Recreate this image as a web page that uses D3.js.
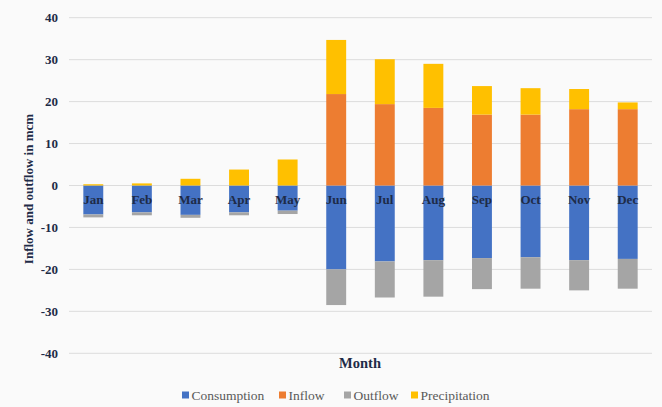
<!DOCTYPE html>
<html>
<head>
<meta charset="utf-8">
<script src="https://cdn.jsdelivr.net/npm/d3@7/dist/d3.min.js"></script>
<style>
  html, body { margin: 0; padding: 0; background: #ffffff; }
  svg { display: block; }
  text { font-family: "Liberation Serif", "DejaVu Serif", "Times New Roman", serif; }
</style>
</head>
<body>
<script>
const months = ["Jan","Feb","Mar","Apr","May","Jun","Jul","Aug","Sep","Oct","Nov","Dec"];
const consumption = [-6.9,-6.4,-7.0,-6.4,-6.0,-20.0,-18.1,-17.8,-17.3,-17.1,-17.8,-17.5];
const inflow = [0,0,0,0,0,21.8,19.4,18.5,16.9,16.9,18.2,18.2];
const outflow = [-0.7,-0.7,-0.7,-0.7,-0.8,-8.5,-8.6,-8.7,-7.4,-7.5,-7.2,-7.1];
const precipitation = [0.3,0.5,1.6,3.8,6.2,12.9,10.7,10.5,6.8,6.3,4.8,1.6];
const yTicks = [-40,-30,-20,-10,0,10,20,30,40];
const seriesNames = ["Consumption","Inflow","Outflow","Precipitation"];
const seriesColors = ["#4472C4","#ED7D31","#A5A5A5","#FFC000"];

const W = 662, H = 407;
const svg = d3.select("body").append("svg").attr("width", W).attr("height", H);
svg.append("rect").attr("width", W).attr("height", H).attr("fill", "#fafafa");

const rows = months.map((m, i) => ({
  month: m,
  Consumption: consumption[i],
  Inflow: inflow[i],
  Outflow: outflow[i],
  Precipitation: precipitation[i]
}));

const x = d3.scaleBand().domain(months).range([69, 652]).paddingInner(0.59).paddingOuter(0.295);
const y = d3.scaleLinear().domain([-40, 40]).range([353.3, 17.7]);
const color = d3.scaleOrdinal().domain(seriesNames).range(seriesColors);

// gridlines
svg.append("g").selectAll("line").data(yTicks).join("line")
  .attr("x1", 69).attr("x2", 652)
  .attr("y1", d => y(d)).attr("y2", d => y(d))
  .attr("stroke", "#dcdcdc").attr("stroke-width", 1);

// y tick labels
svg.append("g").selectAll("text").data(yTicks).join("text")
  .attr("x", 58).attr("y", d => y(d)).attr("dy", "0.35em")
  .attr("text-anchor", "end")
  .attr("font-weight", "bold")
  .attr("font-size", 13).attr("fill", "#1e2b47")
  .text(d => d);

const stack = d3.stack().keys(seriesNames).offset(d3.stackOffsetDiverging);
const stacked = stack(rows);

svg.append("g").selectAll("g").data(stacked).join("g")
  .attr("fill", d => color(d.key))
  .selectAll("rect").data(d => d).join("rect")
  .attr("x", d => x(d.data.month))
  .attr("width", x.bandwidth())
  .attr("y", d => y(Math.max(d[0], d[1])))
  .attr("height", d => Math.abs(y(d[0]) - y(d[1])));

// month labels
svg.append("g").selectAll("text").data(months).join("text")
  .attr("x", d => x(d) + x.bandwidth() / 2).attr("y", 199).attr("dy", "0.35em")
  .attr("text-anchor", "middle")
  .attr("font-weight", "bold")
  .attr("font-size", 13).attr("fill", "#1e2b47")
  .text(d => d);

// axis titles
svg.append("text")
  .attr("transform", "translate(33,189) rotate(-90)")
  .attr("text-anchor", "middle")
  .attr("font-weight", "bold")
  .attr("font-size", 13).attr("fill", "#1e2b47")
  .text("Inflow and outflow in mcm");

svg.append("text")
  .attr("x", 360).attr("y", 363).attr("dy", "0.35em")
  .attr("text-anchor", "middle")
  .attr("font-weight", "bold")
  .attr("font-size", 14.5).attr("fill", "#1e2b47")
  .text("Month");

// legend
const legendX = [182, 279, 344, 411];
const lg = svg.append("g").selectAll("g").data(seriesNames).join("g")
  .attr("transform", (d, i) => `translate(${legendX[i]},395)`);
lg.append("rect").attr("x", 0).attr("y", -3.5).attr("width", 7).attr("height", 7)
  .attr("fill", d => color(d));
lg.append("text").attr("x", 9.5).attr("y", 0).attr("dy", "0.35em")
  .attr("font-size", 13.5).attr("fill", "#595959")
  .text(d => d);
</script>
</body>
</html>
